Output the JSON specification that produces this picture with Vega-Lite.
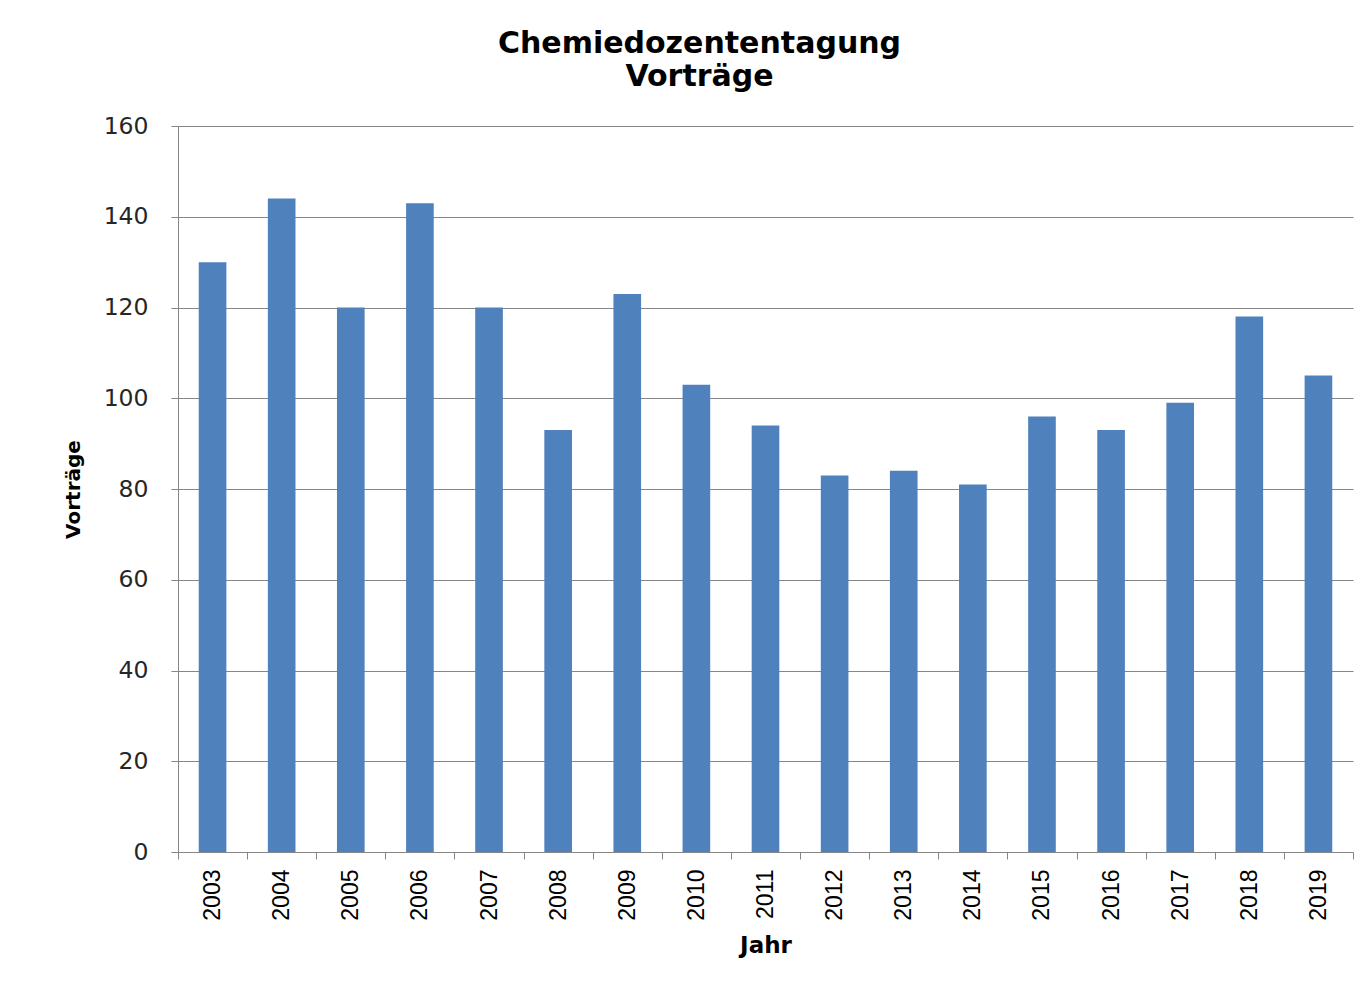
{
  "$schema": "https://vega.github.io/schema/vega-lite/v6.json",
  "autosize": {"type": "none"},
  "padding": {"left": 178, "top": 126, "right": 17, "bottom": 142},
  "width": 1175,
  "height": 726,
  "background": "white",
  "title": {
    "text": ["Chemiedozententagung", "Vorträge"],
    "font": "DejaVu Sans",
    "fontWeight": "bold",
    "fontSize": 30,
    "color": "#000000",
    "lineHeight": 33,
    "baseline": "alphabetic",
    "offset": -2,
    "anchor": "middle",
    "dx": -66
  },
  "data": {
    "values": [
      {"Jahr": "2003", "Vorträge": 130},
      {"Jahr": "2004", "Vorträge": 144},
      {"Jahr": "2005", "Vorträge": 120},
      {"Jahr": "2006", "Vorträge": 143},
      {"Jahr": "2007", "Vorträge": 120},
      {"Jahr": "2008", "Vorträge": 93},
      {"Jahr": "2009", "Vorträge": 123},
      {"Jahr": "2010", "Vorträge": 103},
      {"Jahr": "2011", "Vorträge": 94},
      {"Jahr": "2012", "Vorträge": 83},
      {"Jahr": "2013", "Vorträge": 84},
      {"Jahr": "2014", "Vorträge": 81},
      {"Jahr": "2015", "Vorträge": 96},
      {"Jahr": "2016", "Vorträge": 93},
      {"Jahr": "2017", "Vorträge": 99},
      {"Jahr": "2018", "Vorträge": 118},
      {"Jahr": "2019", "Vorträge": 105}
    ]
  },
  "mark": {"type": "bar", "color": "#4F81BD", "width": {"band": 0.4}},
  "encoding": {
    "x": {
      "field": "Jahr",
      "type": "ordinal",
      "scale": {"paddingInner": 0, "paddingOuter": 0},
      "axis": {
        "title": "Jahr",
        "titleFont": "DejaVu Sans",
        "titleFontWeight": "bold",
        "titleFontSize": 23,
        "titleColor": "#000000",
        "titlePadding": 14,
        "labelAngle": -90,
        "labelFont": "Liberation Sans",
        "labelFontSize": 23,
        "labelColor": "#000000",
        "labelPadding": 10,
        "tickBand": "extent",
        "tickSize": 7,
        "tickColor": "#868686",
        "domainColor": "#868686",
        "grid": false
      }
    },
    "y": {
      "field": "Vorträge",
      "type": "quantitative",
      "scale": {"domain": [0, 160], "nice": false},
      "axis": {
        "title": "Vorträge",
        "titleFont": "DejaVu Sans",
        "titleFontWeight": "bold",
        "titleFontSize": 20,
        "titleColor": "#000000",
        "titlePadding": 20,
        "values": [0, 20, 40, 60, 80, 100, 120, 140, 160],
        "labelFont": "DejaVu Sans",
        "labelFontSize": 23.5,
        "labelColor": "#262626",
        "labelPadding": 23,
        "tickSize": 7,
        "tickColor": "#868686",
        "domainColor": "#868686",
        "grid": true,
        "gridColor": "#868686",
        "gridWidth": 1
      }
    }
  },
  "config": {"view": {"stroke": null}}
}
